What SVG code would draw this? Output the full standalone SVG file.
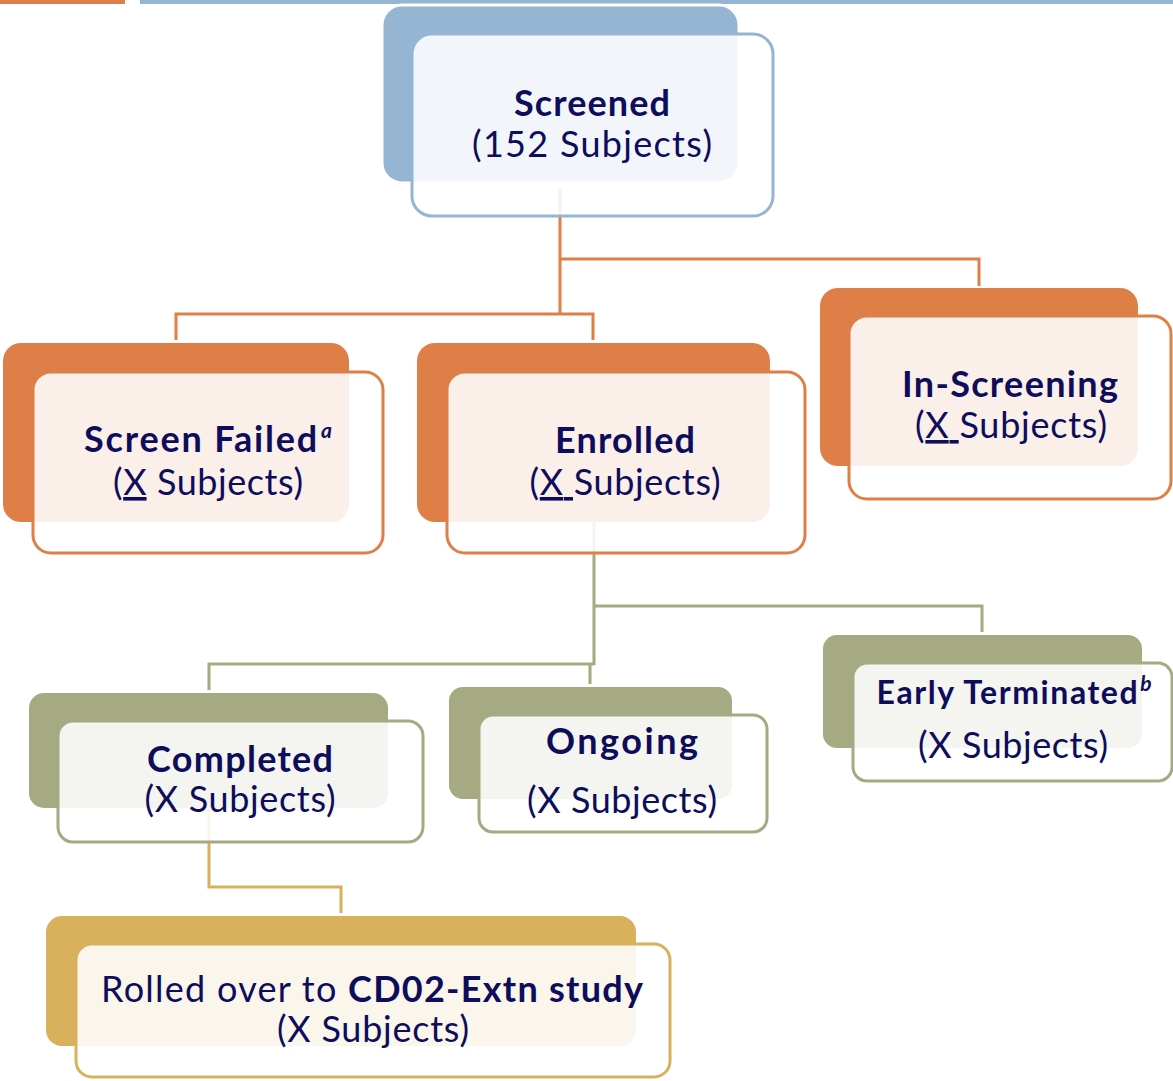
<svg xmlns="http://www.w3.org/2000/svg" width="1173" height="1081" viewBox="0 0 1173 1081">
<style>
  .t{font-family:Lato,"Liberation Sans",sans-serif;font-size:36px;fill:#0D0D5C;text-anchor:middle}
  .b{font-weight:bold}
  .sm{font-size:32px}
  .sup{font-size:21px;font-style:italic;font-weight:bold}
  .u{text-decoration:underline}
  .front{fill:#fff;fill-opacity:0.88;stroke-width:3}
  .conn{fill:none;stroke-width:3;stroke-linejoin:miter}
  .blue .back{fill:#95B5D3}.blue .front{stroke:#95B5D3}
  .orange .back{fill:#DE7F48}.orange .front{stroke:#DE7F48}
  .olive .back{fill:#A5AA82}.olive .front{stroke:#A5AA82}
  .gold .back{fill:#D9B15D}.gold .front{stroke:#D9B15D}
</style>
<rect x="0" y="0" width="125" height="4" fill="#DE7F48"/>
<rect x="140" y="0" width="1033" height="4" fill="#95B5D3"/>
<g id="connectors">
  <path class="conn" stroke="#DE7F48" d="M560,188 V314 M560,259 H979 V286 M176,340 V314 H593 V340"/>
  <path class="conn" stroke="#A5AA82" d="M594,522 V665 M594,606 H982 V632 M209,690 V664 H594 M590,664 V684"/>
  <path class="conn" stroke="#D9B15D" d="M209,808 V887 H341 V913"/>
</g>
<g id="screened" class="blue">
  <rect class="back" x="382" y="5" width="357" height="178" rx="20" stroke="#fff" stroke-width="3"/>
  <rect class="front" x="412" y="34" width="361" height="182" rx="20"/>
  <text class="t b" x="592" y="116" textLength="156">Screened</text>
  <text class="t" x="592" y="157" textLength="240">(152 Subjects)</text>
</g>
<g id="screen-failed" class="orange">
  <rect class="back" x="3" y="343" width="346" height="179" rx="18"/>
  <rect class="front" x="33" y="372" width="350" height="181" rx="18"/>
  <text class="t b" x="208" y="452" textLength="248">Screen Failed<tspan class="sup" dx="2" dy="-14">a</tspan></text>
  <text class="t" x="208" y="495" textLength="190">(<tspan class="u">X</tspan> Subjects)</text>
</g>
<g id="enrolled" class="orange">
  <rect class="back" x="417" y="343" width="353" height="179" rx="18"/>
  <rect class="front" x="447" y="372" width="358" height="181" rx="18"/>
  <text class="t b" x="625" y="453" textLength="140">Enrolled</text>
  <text class="t" x="625" y="495" textLength="191">(<tspan class="u">X </tspan>Subjects)</text>
</g>
<g id="in-screening" class="orange">
  <rect class="back" x="820" y="288" width="318" height="178" rx="18"/>
  <rect class="front" x="849" y="316" width="322" height="183" rx="18"/>
  <text class="t b" x="1010" y="397" textLength="216">In-Screening</text>
  <text class="t" x="1011" y="438" textLength="192">(<tspan class="u">X </tspan>Subjects)</text>
</g>
<g id="completed" class="olive">
  <rect class="back" x="29" y="693" width="359" height="115" rx="15"/>
  <rect class="front" x="58" y="721" width="365" height="121" rx="15"/>
  <text class="t b" x="240" y="772" textLength="186">Completed</text>
  <text class="t" x="240" y="812" textLength="191">(X Subjects)</text>
</g>
<g id="ongoing" class="olive">
  <rect class="back" x="449" y="687" width="283" height="112" rx="14"/>
  <rect class="front" x="479" y="715" width="288" height="117" rx="14"/>
  <text class="t b" x="622" y="754" textLength="152">Ongoing</text>
  <text class="t" x="622" y="813" textLength="190">(X Subjects)</text>
</g>
<g id="early-terminated" class="olive">
  <rect class="back" x="823" y="635" width="319" height="113" rx="14"/>
  <rect class="front" x="853" y="663" width="319" height="118" rx="14"/>
  <text class="t b sm" x="1014" y="704" textLength="275">Early Terminated<tspan class="sup" dx="1" dy="-13">b</tspan></text>
  <text class="t" x="1013" y="758" textLength="190">(X Subjects)</text>
</g>
<g id="rolled-over" class="gold">
  <rect class="back" x="46" y="916" width="590" height="130" rx="16"/>
  <rect class="front" x="76" y="944" width="594" height="133" rx="16"/>
  <text class="t" x="372" y="1002" textLength="542">Rolled over to <tspan class="b">CD02-Extn study</tspan></text>
  <text class="t" x="373" y="1042" textLength="192">(X Subjects)</text>
</g>
</svg>
